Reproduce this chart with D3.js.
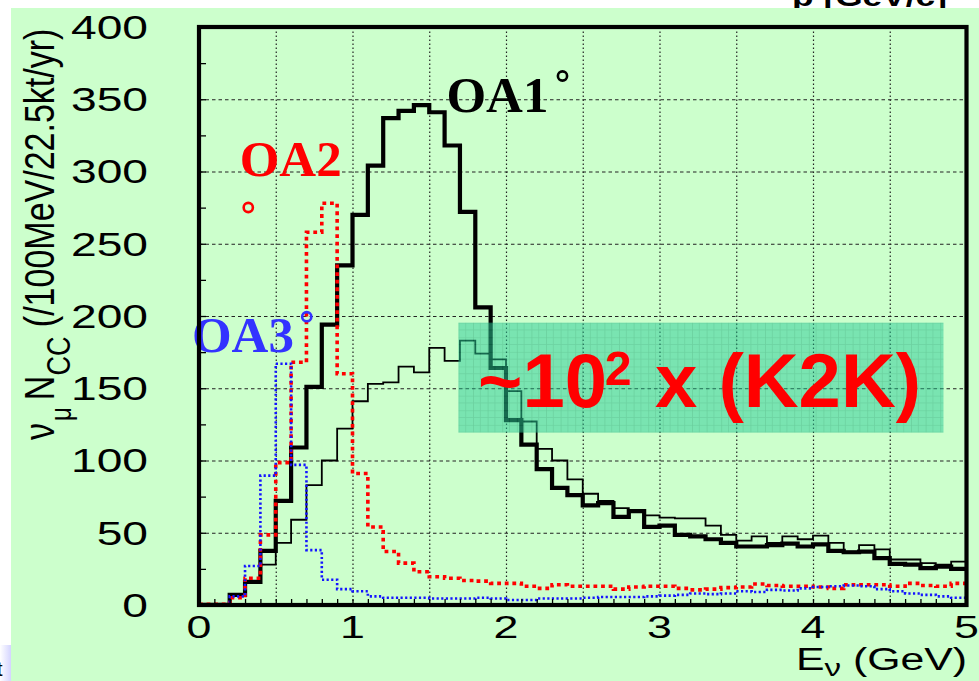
<!DOCTYPE html>
<html>
<head>
<meta charset="utf-8">
<script src="https://d3js.org/d3.v7.min.js"></script>
<style>
  body { margin: 0; background: #fff; }
  svg { display: block; }
</style>
</head>
<body>
<div id="chart"></div>
<script>
// lower edges of the 100 MeV bins (GeV)
const binLow = [0, 0.1, 0.2, 0.3, 0.4, 0.5, 0.6, 0.7, 0.8, 0.9,
  1.0, 1.1, 1.2, 1.3, 1.4, 1.5, 1.6, 1.7, 1.8, 1.9,
  2.0, 2.1, 2.2, 2.3, 2.4, 2.5, 2.6, 2.7, 2.8, 2.9,
  3.0, 3.1, 3.2, 3.3, 3.4, 3.5, 3.6, 3.7, 3.8, 3.9,
  4.0, 4.1, 4.2, 4.3, 4.4, 4.5, 4.6, 4.7, 4.8, 4.9]
const binHigh = 5

// events per bin
const oa1 = [0, 0, 7, 16, 37.5, 72, 109, 151, 194, 235,
  270, 304, 337, 342, 346, 341, 318, 272, 206, 164,
  128, 111, 94, 81, 76, 69, 70.5, 61, 65, 54,
  55, 48.5, 47.5, 45.5, 43, 40.5, 40.5, 41.5, 42.5, 40.5,
  42, 37.5, 36.5, 37, 32.5, 28.5, 28, 25.5, 26.5, 25]
const k2kLike = [1, 1, 7, 16, 28, 43, 59, 83, 100, 122,
  141, 153, 154, 165, 161, 178, 169, 183, 174, 170,
  148, 127, 108, 100, 87, 77, 72, 67, 65, 62,
  60.5, 60, 60, 55, 48.5, 44.5, 47.5, 43, 47.5, 45.5,
  48, 43, 37, 41.5, 38.5, 31.5, 31.5, 29, 28, 30]
const oa2 = [0.5, 0.5, 5, 18.5, 48.5, 98.5, 168, 258, 278, 160,
  91, 54, 37, 29, 23, 19.5, 18.5, 17, 16.5, 15,
  15, 13, 11.5, 14, 13, 13, 13, 11, 12.5, 13,
  13, 11.5, 10.5, 11, 12, 12.5, 14.5, 13.5, 13, 13,
  12.5, 11.5, 14, 14, 14, 13, 15, 13.5, 13, 15]
const oa3 = [0.5, 0.5, 6, 27, 89.5, 167, 97, 38, 17.5, 11,
  9.5, 6, 5, 5, 5, 4.5, 4.5, 4.5, 5, 4.5,
  3.5, 3.5, 4.5, 4.5, 4.5, 5, 5.5, 5.5, 5.5, 6,
  6.5, 7, 8, 7.5, 8, 9.5, 9, 10.5, 10, 11.5,
  12.5, 13, 13.5, 13, 11, 9.5, 8, 7, 6, 5]

const xTicks = [0, 1, 2, 3, 4, 5]
const yTicks = [0, 50, 100, 150, 200, 250, 300, 350, 400]

// annotation anchors in data units [E, N]
const oaLabels = [
  {text: 'OA1', at: [1.612, 341.4], ring: [2.368, 366.1], color: '#000000'},
  {text: 'OA2', at: [0.265, 296.9], ring: [0.321, 275.1], color: '#ff0000'},
  {text: 'OA3', at: [-0.046, 175.3], ring: [0.702, 199.5], color: '#3333ff'}
]
const boxArea = [[1.69, 195.4], [4.85, 119.3]]

function showChart() {
  const W = 979, H = 681
  let svg = d3.select('#chart').append('svg')
    .attr('width', W).attr('height', H)

  let x = d3.scaleLinear().domain([0, 5]).range([199, 966.5])
  let y = d3.scaleLinear().domain([0, 400]).range([605, 27])

  // bits of the neighbouring slide that stick out
  svg.append('text')
    .attr('x', 792).attr('y', 6)
    .attr('font-family', 'Liberation Sans, Arial, sans-serif')
    .attr('font-weight', 'bold').attr('font-size', 28)
    .attr('textLength', 155).attr('lengthAdjust', 'spacingAndGlyphs')
    .text('p [GeV/c]')
  let grad = svg.append('defs').append('linearGradient').attr('id', 'corner')
    .attr('x1', 0).attr('x2', 1).attr('y1', 0).attr('y2', 0)
  grad.append('stop').attr('offset', 0).attr('stop-color', '#ffffff')
  grad.append('stop').attr('offset', 1).attr('stop-color', '#d4d4ff')
  svg.append('rect').attr('x', 0).attr('y', 645).attr('width', 11).attr('height', 36)
    .attr('fill', 'url(#corner)')
  svg.append('text').attr('x', -3).attr('y', 676)
    .attr('font-family', 'Liberation Sans, Arial, sans-serif').attr('font-size', 20)
    .text('t')

  // slide background
  svg.append('rect').attr('x', 11).attr('y', 8)
    .attr('width', W - 11).attr('height', H - 8)
    .attr('fill', '#ccffcc')

  // grid
  svg.append('g')
    .attr('transform', `translate(${x(0)},0)`)
    .call(d3.axisLeft(y).tickValues([50, 100, 150, 200, 250, 300, 350])
      .tickSize(-(x(5) - x(0))).tickFormat(''))
    .call(g => g.select('.domain').remove())
    .selectAll('line')
    .attr('stroke', '#222').attr('stroke-width', 1.1)
    .attr('stroke-dasharray', '3.5,3')
  svg.append('g')
    .attr('transform', `translate(0,${y(0)})`)
    .call(d3.axisBottom(x).tickValues([0.5, 1, 1.5, 2, 2.5, 3, 3.5, 4, 4.5])
      .tickSize(-(y(0) - y(400))).tickFormat(''))
    .call(g => g.select('.domain').remove())
    .selectAll('line')
    .attr('stroke', '#222').attr('stroke-width', 1.2)
    .attr('stroke-dasharray', '1.4,2.6')

  // histograms as step outlines
  let makeLine = d3.line()
    .x(d => x(d[0]))
    .y(d => y(d[1]))
    .curve(d3.curveStepAfter)
  const toSteps = vals => {
    let pts = vals.map((v, i) => [binLow[i], v])
    pts.push([binHigh, vals[vals.length - 1]])
    return pts
  }
  let series = [
    {vals: k2kLike, color: '#000', width: 1.8, dash: null},
    {vals: oa1, color: '#000', width: 4.2, dash: null},
    {vals: oa2, color: '#ff0000', width: 3.6, dash: '3.8,3.8'},
    {vals: oa3, color: '#1414ff', width: 2.6, dash: '2.2,2.4'}
  ]
  series.forEach(s => {
    svg.append('path')
      .attr('d', makeLine(toSteps(s.vals)))
      .attr('fill', 'none')
      .attr('stroke', s.color)
      .attr('stroke-width', s.width)
      .attr('stroke-dasharray', s.dash)
      .attr('stroke-linejoin', 'miter')
  })

  // translucent highlight box with a faint grid texture
  let pat = svg.select('defs').append('pattern').attr('id', 'boxgrid')
    .attr('patternUnits', 'userSpaceOnUse')
    .attr('x', x(boxArea[0][0])).attr('y', y(boxArea[0][1]))
    .attr('width', 14.6).attr('height', 14.6)
  pat.append('rect').attr('width', 14.6).attr('height', 14.6).attr('fill', '#2ccc98')
  pat.append('path').attr('d', 'M0 0H14.6M0 0V14.6')
    .attr('stroke', '#0a9a6a').attr('stroke-width', 1.2)
  pat.append('path').attr('d', 'M0 7.3H14.6M7.3 0V14.6')
    .attr('stroke', '#15a87a').attr('stroke-width', 0.8)
  svg.append('rect')
    .attr('x', x(boxArea[0][0])).attr('y', y(boxArea[0][1]))
    .attr('width', x(boxArea[1][0]) - x(boxArea[0][0]))
    .attr('height', y(boxArea[1][1]) - y(boxArea[0][1]))
    .attr('fill', 'url(#boxgrid)').attr('opacity', 0.52)

  // "~10^2 x (K2K)"
  let big = svg.append('g')
    .attr('font-family', 'Liberation Sans, Arial, sans-serif')
    .attr('font-weight', 'bold').attr('fill', '#ff0000')
  big.append('text').attr('x', x(1.818)).attr('y', y(137.2))
    .attr('font-size', 76).text('~10')
  big.append('text').attr('x', x(2.645)).attr('y', y(152.2))
    .attr('font-size', 48).text('2')
  big.append('text').attr('x', x(2.971)).attr('y', y(137.2))
    .attr('font-size', 76).text('x (K2K)')

  // OA labels with their little degree rings
  oaLabels.forEach(l => {
    svg.append('text')
      .attr('x', x(l.at[0])).attr('y', y(l.at[1]))
      .attr('font-family', 'Liberation Serif, Times New Roman, serif')
      .attr('font-weight', 'bold').attr('font-size', 51)
      .attr('fill', l.color).text(l.text)
    svg.append('circle')
      .attr('cx', x(l.ring[0])).attr('cy', y(l.ring[1]))
      .attr('r', 4.6).attr('fill', 'none')
      .attr('stroke', l.color).attr('stroke-width', 2.6)
  })

  // minor ticks pointing inwards
  svg.append('g')
    .attr('transform', `translate(${x(0)},0)`)
    .call(d3.axisLeft(y).tickValues(d3.range(0, 401, 25)).tickSize(-7).tickFormat(''))
    .call(g => g.select('.domain').remove())
    .selectAll('line').attr('stroke', '#000').attr('stroke-width', 1.3)
  svg.append('g')
    .attr('transform', `translate(0,${y(0)})`)
    .call(d3.axisBottom(x).tickValues(binLow).tickSize(-6).tickFormat(''))
    .call(g => g.select('.domain').remove())
    .selectAll('line').attr('stroke', '#000').attr('stroke-width', 1.3)

  // frame
  svg.append('rect')
    .attr('x', x(0)).attr('y', y(400))
    .attr('width', x(5) - x(0)).attr('height', y(0) - y(400))
    .attr('fill', 'none').attr('stroke', '#000').attr('stroke-width', 4.2)

  // tick labels, the slide stretched them sideways
  const sans = 'Liberation Sans, Arial, Helvetica, sans-serif'
  yTicks.forEach(v => {
    svg.append('text')
      .attr('transform', `translate(148,${y(v)}) scale(1.4,1)`)
      .attr('text-anchor', 'end').attr('dy', '0.36em')
      .attr('font-family', sans).attr('font-size', 33)
      .text(v)
  })
  xTicks.forEach(v => {
    svg.append('text')
      .attr('transform', `translate(${x(v)},637.5) scale(1.4,1)`)
      .attr('text-anchor', 'middle')
      .attr('font-family', sans).attr('font-size', 32)
      .text(v)
  })

  // axis titles
  let xt = svg.append('text')
    .attr('transform', 'translate(967,670) scale(1.38,1)')
    .attr('text-anchor', 'end')
    .attr('font-family', sans).attr('font-size', 31)
  xt.append('tspan').text('E')
  xt.append('tspan').attr('dy', 6).attr('font-size', 24).text('ν')
  xt.append('tspan').attr('dy', -6).text(' (GeV)')

  let yt = svg.append('text')
    .attr('transform', 'translate(54,440) scale(1.23,1) rotate(-90)')
    .attr('font-family', sans).attr('font-size', 34)
  yt.append('tspan').text('ν')
  yt.append('tspan').attr('dx', 2).attr('dy', 14).attr('font-size', 24).text('μ')
  yt.append('tspan').attr('dx', 7).attr('dy', -14).text('N')
  yt.append('tspan').attr('dy', 13).attr('font-size', 27).text('CC')
  yt.append('tspan').attr('dy', -13).text(' (/100MeV/22.5kt/yr)')
}
showChart()
</script>
</body>
</html>
